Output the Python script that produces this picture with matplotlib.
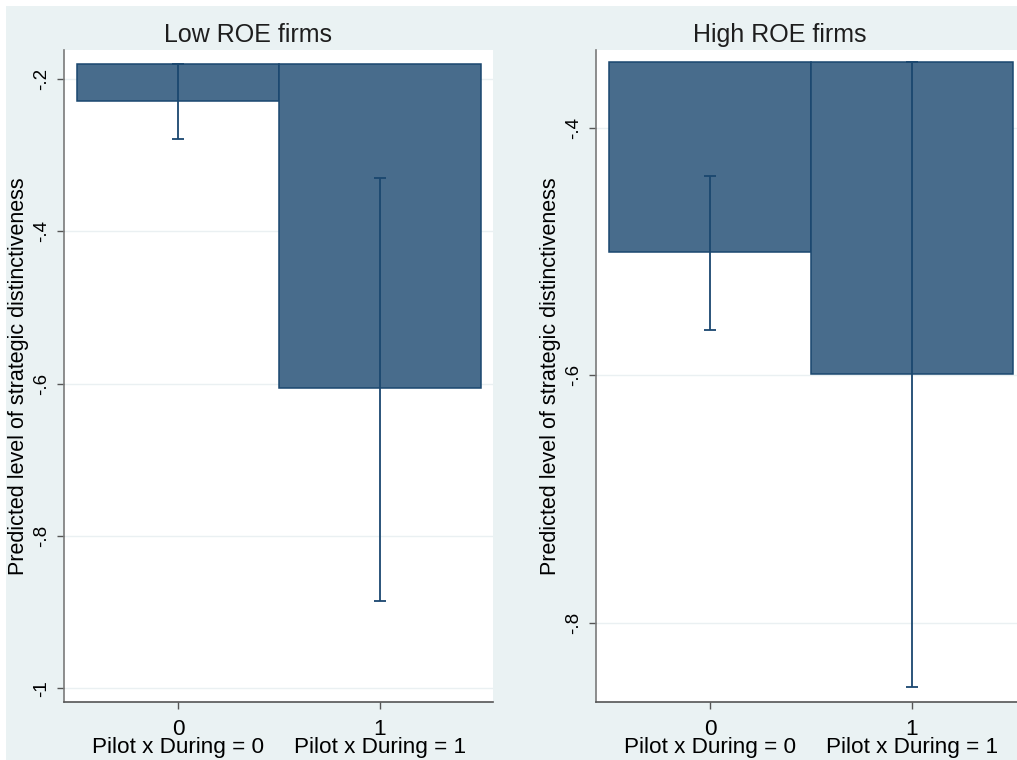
import matplotlib.pyplot as plt
from matplotlib.patches import Rectangle

plt.rcParams['font.family'] = ['Liberation Sans', 'DejaVu Sans']

# predicted values and 95% CI
panel_titles = ["Low ROE firms", "High ROE firms"]
x_values = [0, 1]
x_labels = ["Pilot x During = 0", "Pilot x During = 1"]

low_mean = [-0.229, -0.606]
low_lo = [-0.279, -0.886]
low_hi = [-0.180, -0.330]

high_mean = [-0.500, -0.599]
high_lo = [-0.563, -0.852]
high_hi = [-0.439, -0.347]

low_ticks = [-1.0, -0.8, -0.6, -0.4, -0.2]
low_ticklabels = ["-1", "-.8", "-.6", "-.4", "-.2"]
high_ticks = [-0.8, -0.6, -0.4]
high_ticklabels = ["-.8", "-.6", "-.4"]

bg = "#EAF2F3"
bar_col = "#486C8C"
navy = "#1A476F"

fig = plt.figure(figsize=(10.17, 7.6), dpi=100, facecolor="white")
fig.patches.append(Rectangle((6 / 1017, 0), 1, 754 / 760, transform=fig.transFigure,
                             facecolor=bg, edgecolor="none", zorder=-1))

ax1 = fig.add_axes([64 / 1017, 1 - 702 / 760, 429 / 1017, 652 / 760])
ax2 = fig.add_axes([596 / 1017, 1 - 702 / 760, 429 / 1017, 652 / 760])

panels = [
    (ax1, panel_titles[0], low_mean, low_lo, low_hi, low_ticks, low_ticklabels, (-1.018, -0.162)),
    (ax2, panel_titles[1], high_mean, high_lo, high_hi, high_ticks, high_ticklabels, (-0.864, -0.337)),
]

for ax, title, mean, lo, hi, ticks, tlabels, ylim in panels:
    base = max(hi)  # stata hangs the bars from the top of the range
    heights = [m - base for m in mean]
    ax.bar(x_values, heights, bottom=base, width=1.0, color=bar_col,
           edgecolor=navy, linewidth=1.1, zorder=2)
    err_low = [m - l for m, l in zip(mean, lo)]
    err_high = [h - m for m, h in zip(mean, hi)]
    ax.errorbar(x_values, mean, yerr=[err_low, err_high], fmt="none",
                ecolor=navy, elinewidth=1.3, capsize=4, capthick=1.3, zorder=3)

    ax.set_xlim(-0.564, 1.559)
    ax.set_ylim(*ylim)
    ax.set_facecolor("white")

    ax.set_yticks(ticks)
    ax.set_yticklabels(tlabels, rotation=90, va="center", fontsize=13.5)
    ax.set_xticks(x_values)
    ax.set_xticklabels([f"{v}\n{lab}" for v, lab in zip(x_values, x_labels)],
                       fontsize=16.2, linespacing=0.82)
    ax.tick_params(axis="y", length=5, width=1, color="#555555", pad=5)
    ax.tick_params(axis="x", length=5, width=1, color="#555555", pad=7.5)

    ax.grid(axis="y", color="#EAF0F2", linewidth=1, zorder=0)
    ax.set_axisbelow(True)
    for s in ["top", "right"]:
        ax.spines[s].set_visible(False)
    ax.spines["left"].set_color("#7A7A7A")
    ax.spines["bottom"].set_color("#555555")
    ax.spines["left"].set_linewidth(1.2)
    ax.spines["bottom"].set_linewidth(1.2)

    # title is centred over the whole panel, not just the plot area
    ax.set_title(title, fontsize=18, pad=6, color="#1E1E1E", x=0.428)
    ax.set_ylabel("Predicted level of strategic distinctiveness", fontsize=15.5, va="center")
    ax.yaxis.set_label_coords(-0.107, 0.5)

fig.savefig("out.png", dpi=100, facecolor=fig.get_facecolor())
